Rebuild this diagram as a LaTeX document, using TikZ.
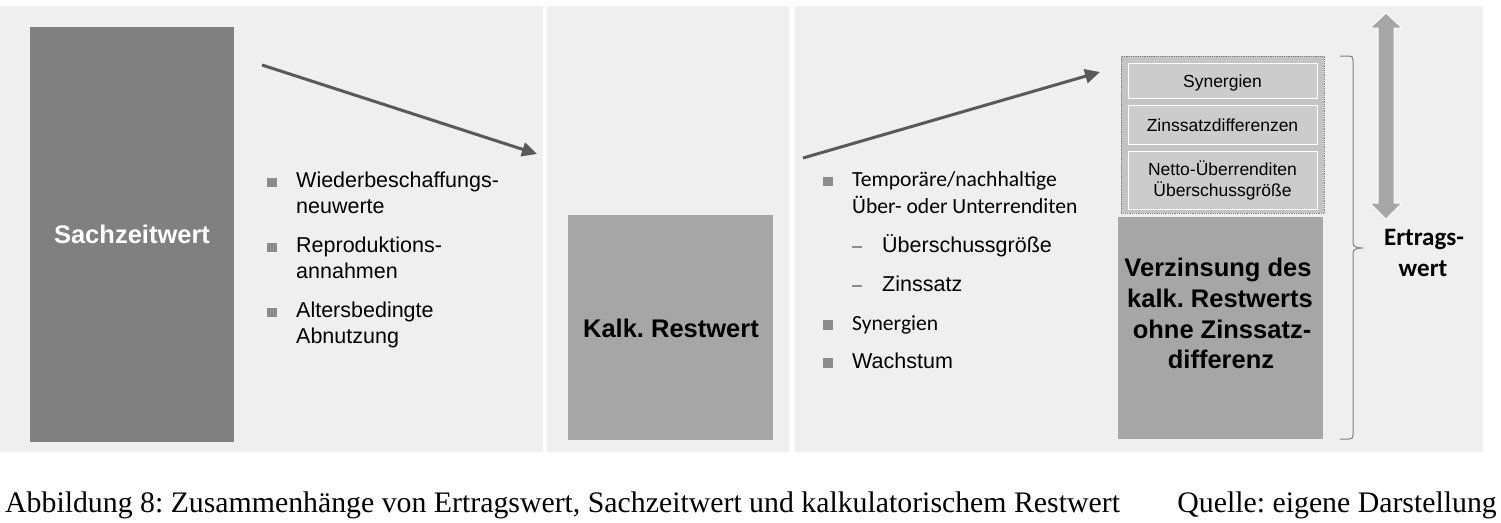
\documentclass[tikz,border=0pt]{standalone}
\usepackage{fontspec}
\usepackage{graphicx}
\usetikzlibrary{arrows.meta}
\newfontfamily\arialf{Liberation Sans}
\newfontfamily\calif{Carlito}
\newfontfamily\serf{Liberation Serif}
\definecolor{panelbg}{HTML}{EFEFEF}
\definecolor{boxdark}{HTML}{808080}
\definecolor{boxmid}{HTML}{A6A6A6}
\definecolor{boxlight}{HTML}{CCCCCC}
\definecolor{framebg}{HTML}{C4C4C4}
\definecolor{bulgray}{HTML}{8C8C8C}
\definecolor{arrgray}{HTML}{595959}
\definecolor{bracegray}{HTML}{7F7F7F}
\frenchspacing
\begin{document}
\begin{tikzpicture}[x=1pt,y=-1pt,
  panel/.style={fill=panelbg, draw=none, inner sep=0pt, anchor=north west},
  boxnode/.style={draw=none, inner sep=0pt, anchor=north west},
  smallbox/.style={fill=boxlight, draw=white, line width=1.2pt, inner sep=0pt, anchor=north west},
  bul/.style={fill=bulgray, minimum size=9.5pt, inner sep=0pt},
  dashbul/.style={fill=bulgray, minimum width=10pt, minimum height=1.2pt, inner sep=0pt},
  atxt/.style={font=\arialf\fontsize{21.5}{26}\selectfont, anchor=base west, inner sep=0pt},
  ctxt/.style={font=\calif\fontsize{21.6}{26}\selectfont, anchor=base west, inner sep=0pt},
  bigt/.style={font=\arialf\bfseries\fontsize{25.5}{31}\selectfont, anchor=base, inner sep=0pt},
  smt/.style={font=\arialf\fontsize{17.5}{20}\selectfont, anchor=base, inner sep=0pt},
  ert/.style={font=\calif\bfseries\fontsize{25}{30}\selectfont, anchor=base, inner sep=0pt},
  capt/.style={font=\serf\fontsize{29.8}{32}\selectfont, inner sep=0pt},
  conn/.style={draw=arrgray, line width=3pt, -{Triangle[length=15pt,width=14pt]}}
]
\useasboundingbox[fill=white] (0,0) rectangle (1501,522);

% panels
\node[panel, minimum width=543pt, minimum height=446pt] (p1) at (0,6) {};
\node[panel, minimum width=242pt, minimum height=446pt] (p2) at (547,6) {};
\node[panel, minimum width=688pt, minimum height=446pt] (p3) at (795,6) {};

% Sachzeitwert
\node[boxnode, fill=boxdark, minimum width=204pt, minimum height=415pt] (sz) at (30,27) {};
\node[bigt, text=white] (szt) at (132,243) {Sachzeitwert};

% left bullets
\node[bul] (b1) at (272,182.5) {};
\node[atxt] (l1a) at (296,187) {Wiederbeschaffungs-};
\node[atxt] (l1b) at (296,213) {neuwerte};
\node[bul] (b2) at (272,247.5) {};
\node[atxt] (l2a) at (296,252) {Reproduktions-};
\node[atxt] (l2b) at (296,278) {annahmen};
\node[bul] (b3) at (272,312.5) {};
\node[atxt] (l3a) at (296,317) {Altersbedingte};
\node[atxt] (l3b) at (296,343) {Abnutzung};

% arrow 1
\coordinate (a1s) at (262,65);
\coordinate (a1e) at (537,154);
\draw[conn] (a1s) -- (a1e);

% Kalk. Restwert
\node[boxnode, fill=boxmid, minimum width=205pt, minimum height=225pt] (kr) at (568,215) {};
\node[bigt] (krt) at (671,337) {Kalk. Restwert};

% arrow 2
\coordinate (a2s) at (803,158);
\coordinate (a2e) at (1100,72);
\draw[conn] (a2s) -- (a2e);

% right bullets
\node[bul] (r1) at (828,181.5) {};
\node[ctxt] (r1a) at (852,186) {Temporäre/nachhaltige};
\node[ctxt] (r1b) at (852,213) {Über- oder Unterrenditen};
\node[dashbul] (d1) at (857,247) {};
\node[atxt] (r2) at (882,252) {Überschussgröße};
\node[dashbul] (d2) at (857,286) {};
\node[atxt] (r3) at (882,291) {Zinssatz};
\node[bul] (r4b) at (828,325) {};
\node[ctxt] (r4) at (852,330) {Synergien};
\node[bul] (r5b) at (828,363) {};
\node[atxt] (r5) at (852,368) {Wachstum};

% dotted frame with small boxes
\node[boxnode, fill=framebg, draw=bracegray, densely dotted, line width=0.8pt, minimum width=203pt, minimum height=157pt] (fr) at (1121,56) {};
\node[smallbox, minimum width=189pt, minimum height=35pt] (s1) at (1128,63) {};
\node[smt] (s1t) at (1222.5,87) {Synergien};
\node[smallbox, minimum width=189pt, minimum height=39pt] (s2) at (1128,105) {};
\node[smt] (s2t) at (1222.5,131) {Zinssatzdifferenzen};
\node[smallbox, minimum width=189pt, minimum height=58pt] (s3) at (1128,151) {};
\node[smt] (s3a) at (1222.5,175) {Netto-Überrenditen};
\node[smt] (s3b) at (1222.5,196) {Überschussgröße};

% Verzinsung box
\node[boxnode, fill=boxmid, minimum width=205pt, minimum height=222pt] (vz) at (1118,217) {};
\node[bigt] (v1) at (1218,276) {Verzinsung des};
\node[bigt] (v2) at (1220,307) {kalk. Restwerts};
\node[bigt] (v3) at (1222,338) {ohne Zinssatz-};
\node[bigt] (v4) at (1221,368) {differenz};

% brace
\draw[bracegray, line width=1pt]
  (1340,56) -- (1349,56) .. controls (1352,56) and (1353,57) .. (1353,60)
  -- (1353,243) .. controls (1353,246.5) and (1356,248) .. (1363,248)
  .. controls (1356,248) and (1353,249.5) .. (1353,253)
  -- (1353,435) .. controls (1353,438) and (1352,439) .. (1349,439) -- (1340,439);

% double arrow
\draw[fill=boxmid, draw=white, line width=1pt]
  (1386,13) -- (1402,28) -- (1394,28) -- (1394,203) -- (1402,203) -- (1386,219)
  -- (1370,203) -- (1378,203) -- (1378,28) -- (1370,28) -- cycle;

% Ertragswert
\node[ert] (e1) at (1424,245) {Ertrags-};
\node[ert] (e2) at (1423,276) {wert};

% caption
\node[capt, anchor=base west] (cap) at (5,512) {Abbildung 8: Zusammenhänge von Ertragswert, Sachzeitwert und kalkulatorischem Restwert};
\node[capt, anchor=base east] (src) at (1497,512) {Quelle: eigene Darstellung};
\end{tikzpicture}
\end{document}
